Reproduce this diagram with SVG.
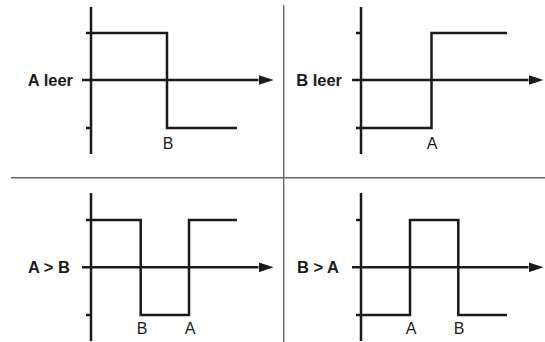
<svg xmlns="http://www.w3.org/2000/svg" width="545" height="342" viewBox="0 0 545 342">
<defs>
<style>
.ax{stroke:#1a1a1a;stroke-width:2.5;fill:none}
.wv{stroke:#1a1a1a;stroke-width:2.5;fill:none;stroke-linejoin:miter;stroke-linecap:butt}
.dv{stroke:#666;stroke-width:1.4;fill:none}
.lb{font-family:"Liberation Sans",Arial,sans-serif;font-size:16.5px;font-weight:bold;fill:#1a1a1a;text-anchor:end}
.pt{font-family:"Liberation Sans",Arial,sans-serif;font-size:16px;fill:#1a1a1a;text-anchor:middle}
</style>
<marker id="ah" markerWidth="15" markerHeight="10" refX="0" refY="5" orient="auto" markerUnits="userSpaceOnUse">
<path d="M0,0 L15,5 L0,10 Z" fill="#1a1a1a"/>
</marker>
</defs>
<g id="dividers">
<line class="dv" x1="11" y1="177.7" x2="545" y2="177.7"/>
<line class="dv" x1="283.7" y1="5" x2="283.7" y2="342"/>
</g>
<g id="panel-a-leer">
<line class="ax" x1="91" y1="7" x2="91" y2="154"/>
<line class="ax" x1="86" y1="33" x2="91" y2="33"/>
<line class="ax" x1="86" y1="128" x2="91" y2="128"/>
<line class="ax" x1="82" y1="80" x2="258.5" y2="80" marker-end="url(#ah)"/>
<polyline class="wv" points="91,33 167,33 167,128 237,128"/>
<text class="lb" x="73" y="85.5">A leer</text>
<text class="pt" x="168" y="149">B</text>
</g>
<g id="panel-b-leer">
<line class="ax" x1="361" y1="7" x2="361" y2="154"/>
<line class="ax" x1="356" y1="33" x2="361" y2="33"/>
<line class="ax" x1="356" y1="128" x2="361" y2="128"/>
<line class="ax" x1="352" y1="80" x2="528.5" y2="80" marker-end="url(#ah)"/>
<polyline class="wv" points="361,128 431.5,128 431.5,33 507,33"/>
<text class="lb" x="342" y="85.5">B leer</text>
<text class="pt" x="432" y="149">A</text>
</g>
<g id="panel-a-gt-b">
<line class="ax" x1="91" y1="193" x2="91" y2="341"/>
<line class="ax" x1="86" y1="220" x2="91" y2="220"/>
<line class="ax" x1="86" y1="315" x2="91" y2="315"/>
<line class="ax" x1="82" y1="267.3" x2="258.5" y2="267.3" marker-end="url(#ah)"/>
<polyline class="wv" points="91,220 140.7,220 140.7,315 189,315 189,220 237,220"/>
<text class="lb" x="70" y="273">A &gt; B</text>
<text class="pt" x="142" y="334">B</text>
<text class="pt" x="190" y="334">A</text>
</g>
<g id="panel-b-gt-a">
<line class="ax" x1="361" y1="193" x2="361" y2="341"/>
<line class="ax" x1="356" y1="220" x2="361" y2="220"/>
<line class="ax" x1="356" y1="315" x2="361" y2="315"/>
<line class="ax" x1="352" y1="267.3" x2="528.5" y2="267.3" marker-end="url(#ah)"/>
<polyline class="wv" points="361,315 410,315 410,220 458.3,220 458.3,315 507,315"/>
<text class="lb" x="339" y="273">B &gt; A</text>
<text class="pt" x="411" y="334">A</text>
<text class="pt" x="459" y="334">B</text>
</g>
</svg>
